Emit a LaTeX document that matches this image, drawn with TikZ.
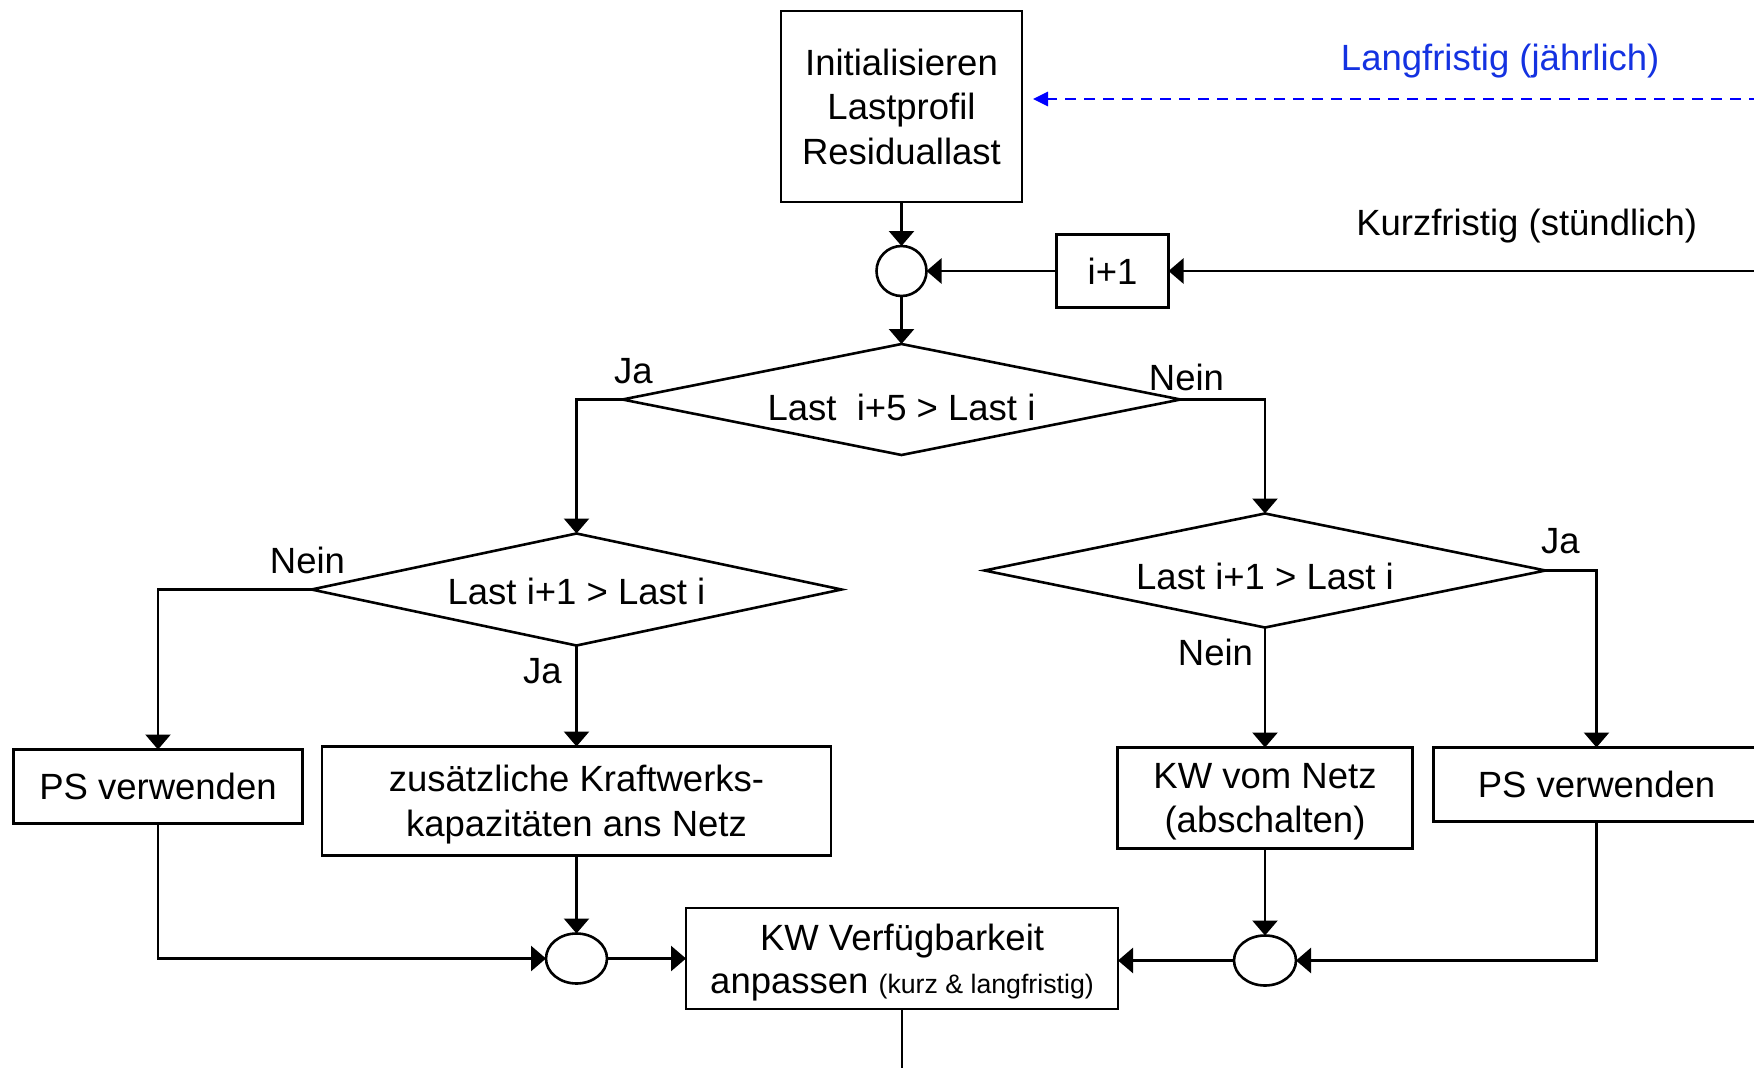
\documentclass[tikz,border=0pt]{standalone}
\usepackage{fontspec}
\setmainfont{Liberation Sans}
\usepackage{xcolor}
\usetikzlibrary{arrows.meta,positioning,shapes.geometric}
\definecolor{langblue}{RGB}{20,50,225}
\newcommand{\bigfont}{\fontsize{36.5pt}{44.5pt}\selectfont}
\newcommand{\smallfont}{\fontsize{26.7pt}{30pt}\selectfont}

\begin{document}
\begin{tikzpicture}[
  x=1pt, y=-1pt,
  font=\bigfont,
  block/.style={draw, line width=2.6pt, align=center, inner sep=0pt, outer sep=0pt, text depth=0pt},
  decision/.style={draw, diamond, line width=2.6pt, inner sep=0pt, outer sep=0pt, text depth=0pt},
  junction/.style={draw, circle, line width=2.6pt, inner sep=0pt, outer sep=0pt, minimum size=50pt},
  merge/.style={draw, ellipse, line width=2.6pt, inner sep=0pt, outer sep=0pt, minimum width=61pt, minimum height=50pt},
  lbl/.style={inner sep=0pt, anchor=base},
  arrow/.style={-{Triangle[length=15pt, width=25pt]}, line width=2.6pt},
  longterm/.style={-{Triangle[length=15pt, width=14pt]}, line width=2.7pt, blue, dash pattern=on 11pt off 8pt}
]
\useasboundingbox (0,0) rectangle (1754,1068);
\node[block, minimum width=241pt, minimum height=191pt] (init) at (901.5,106.5) {Initialisieren\\Lastprofil\\Residuallast};
\node[junction, below=44pt of init] (join) {};
\node[block, minimum width=112pt, minimum height=73pt, right=130pt of join] (inc) {i+1};
\node[decision, minimum width=558pt, minimum height=111pt, aspect=5, text height=42pt, below=48pt of join] (test) {Last~~i+5 > Last i};
\node[decision, minimum width=530pt, minimum height=112pt, aspect=4.7, text height=30pt, below=134pt of test.west, xshift=-46pt] (up) {Last i+1 > Last i};
\node[decision, minimum width=561pt, minimum height=114pt, aspect=4.9, text height=38pt, below=114pt of test.east, xshift=84.5pt] (down) {Last i+1 > Last i};
\node[block, minimum width=289pt, minimum height=74pt, below=160pt of up.west, xshift=-153.5pt] (psleft) {PS verwenden};
\node[block, minimum width=509pt, minimum height=109pt, below=101pt of up] (extra) {zusätzliche Kraftwerks-\\kapazitäten ans Netz};
\node[block, minimum width=295pt, minimum height=101pt, below=120pt of down] (kwoff) {KW vom Netz\\(abschalten)};
\node[block, minimum width=326pt, minimum height=74pt, below=177pt of down.east, xshift=51pt] (psright) {PS verwenden};
\node[merge, below=78pt of extra] (mergeleft) {};
\node[block, minimum width=432pt, minimum height=101pt, right=79pt of mergeleft] (adjust) {KW Verfügbarkeit\\[-1.5pt]anpassen {\smallfont(kurz \& langfristig)}};
\node[merge, minimum width=62pt, below=87pt of kwoff] (mergeright) {};
\coordinate[right=591pt of inc.east] (shortin);
\coordinate (longin) at (1760,99);
\coordinate[below=62pt of adjust.south] (out);
\node[lbl] at ([xshift=11pt, yshift=16pt]test.west) {Ja};
\node[lbl] at ([xshift=6pt, yshift=9pt]test.east) {Nein};
\node[lbl] at ([xshift=-4pt, yshift=16pt]up.west) {Nein};
\node[lbl] at ([xshift=-34pt, yshift=-38pt]up.south) {Ja};
\node[lbl] at ([xshift=15pt, yshift=17pt]down.east) {Ja};
\node[lbl] at ([xshift=-49.5pt, yshift=-38pt]down.south) {Nein};
\draw[arrow] (init) -- (join);
\draw[arrow] (inc) -- (join);
\draw[arrow] (join) -- (test);
\draw[arrow] (test.west) -| (up.north);
\draw[arrow] (test.east) -| (down.north);
\draw[arrow] (up.west) -| (psleft.north);
\draw[arrow] (up.south) -- (extra.north);
\draw[arrow] (down.east) -| (psright.north);
\draw[arrow] (down.south) -- (kwoff.north);
\draw[arrow] (psleft.south) |- (mergeleft.west);
\draw[arrow] (extra.south) -- (mergeleft.north);
\draw[arrow] (mergeleft) -- (adjust);
\draw[arrow] (kwoff.south) -- (mergeright.north);
\draw[arrow] (psright.south) |- (mergeright.east);
\draw[arrow] (mergeright.west) -- (mergeright.west -| adjust.east);
\draw[line width=2.6pt] (adjust.south) -- (out);
\draw[arrow] (shortin) -- node[lbl, pos=0.394, yshift=36pt] {Kurzfristig (stündlich)} (inc.east);
\draw[longterm, shorten >=11pt] (longin) -- node[lbl, pos=0.352, yshift=29pt, text=langblue] {Langfristig (jährlich)} (init.east |- longin);
\end{tikzpicture}
\end{document}
